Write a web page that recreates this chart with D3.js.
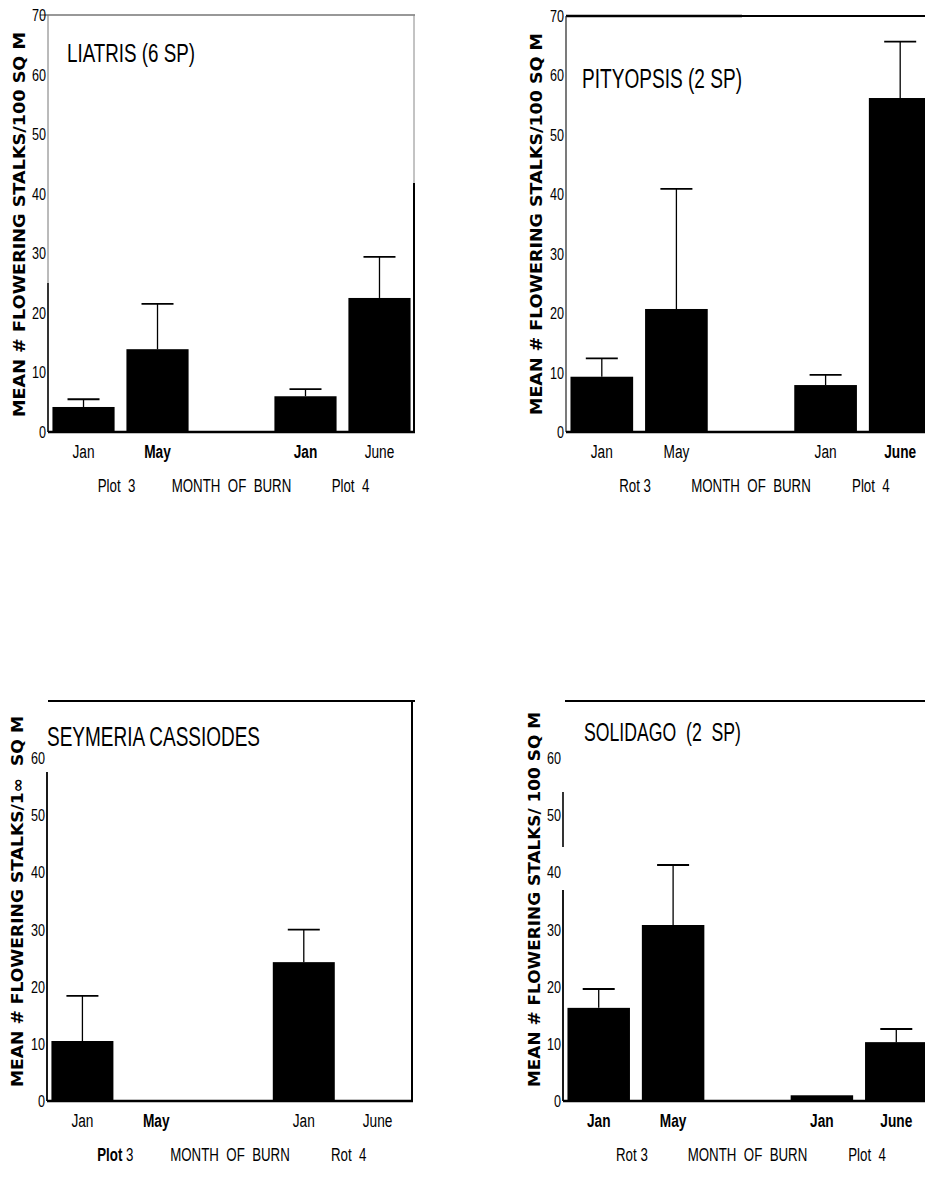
<!DOCTYPE html>
<html>
<head>
<meta charset="utf-8">
<script src="https://cdn.jsdelivr.net/npm/d3@7"></script>
<style>
  body { margin: 0; background: #fff; }
  .narrow { font-family: "Liberation Sans", Arial, sans-serif; }
  .ylab { font-family: "DejaVu Sans", sans-serif; font-weight: bold; }
</style>
</head>
<body>
<div id="chart"></div>
<script>
// categories: two plots, two burn months each, empty slot between them
var slots = ["Jan 3", "May 3", "gap", "Jan 4", "June 4"]
var monthLabels = ["Jan", "May", "", "Jan", "June"]
var yTicks = [0, 10, 20, 30, 40, 50, 60, 70]

// means and top of error bars
var liatrisMean = [4.2, 13.9, null, 6.0, 22.5]
var liatrisUpper = [5.5, 21.5, null, 7.2, 29.4]
var pityopsisMean = [9.3, 20.7, null, 7.9, 56.2]
var pityopsisUpper = [12.4, 40.9, null, 9.6, 65.7]
var seymeriaMean = [10.5, 0, null, 24.3, 0]
var seymeriaUpper = [18.4, null, null, 30.0, null]
var solidagoMean = [16.3, 30.8, null, 1.0, 10.3]
var solidagoUpper = [19.6, 41.3, null, null, 12.6]

var titles = ["LIATRIS (6 SP)", "PITYOPSIS (2 SP)", "SEYMERIA CASSIODES", "SOLIDAGO  (2  SP)"]
var yTitles = [
  "MEAN # FLOWERING STALKS/100 SQ M",
  "MEAN # FLOWERING STALKS/100 SQ M",
  "MEAN # FLOWERING STALKS/1\u221E  SQ M",
  "MEAN # FLOWERING STALKS/ 100 SQ M"
]
var plotLabels = [
  ["Plot  3", "MONTH  OF  BURN", "Plot  4"],
  ["Rot 3", "MONTH  OF  BURN", "Plot  4"],
  ["Plot 3", "MONTH  OF  BURN", "Rot  4"],
  ["Rot 3", "MONTH  OF  BURN", "Plot  4"]
]
var boldMonths = [
  [false, true, false, true, false],
  [false, false, false, false, true],
  [false, true, false, false, false],
  [true, true, false, true, true]
]

var width = 925, height = 1186

var svg = d3.select("#chart")
  .append("svg")
  .attr("width", width)
  .attr("height", height)

// squeeze text horizontally to mimic the condensed typeface
function condense(sel, f) {
  sel.each(function() {
    var w = this.getComputedTextLength()
    d3.select(this)
      .attr("textLength", w * f)
      .attr("lengthAdjust", "spacingAndGlyphs")
  })
}

// panel layout; frame pieces are [from, to, width, colour] in pixels
var panels = [
  { mean: liatrisMean, upper: liatrisUpper, left: 48, right: 415, top: 15, bottom: 432,
    yLabX: 25, yLabTop: 32, yLabBot: 417, titleX: 67, titleY: 62, titleSize: 25, titleW: 128, hide70: false,
    leftSegs: [[15, 283, 1, "#777"], [283, 432, 1.6, "#000"]],
    rightSegs: [[15, 183, 1, "#888"], [183, 432, 2, "#000"]],
    topSegs: [[40, 415, 1.2, "#333"]] },
  { mean: pityopsisMean, upper: pityopsisUpper, left: 566, right: 936, top: 16, bottom: 432,
    yLabX: 542, yLabTop: 33, yLabBot: 415, titleX: 582, titleY: 88, titleSize: 27, titleW: 160, hide70: false,
    leftSegs: [[16, 432, 1.2, "#222"]],
    rightSegs: [],
    topSegs: [[566, 742, 2.6, "#000"], [742, 925, 1.8, "#000"]] },
  { mean: seymeriaMean, upper: seymeriaUpper, left: 47, right: 413, top: 701, bottom: 1101,
    yLabX: 23, yLabTop: 716, yLabBot: 1087, titleX: 47, titleY: 746, titleSize: 27, titleW: 213, hide70: true,
    leftSegs: [[772, 1101, 1.8, "#000"]],
    rightSegs: [[701, 1101, 2, "#000"]],
    topSegs: [[48, 415, 2.2, "#000"]] },
  { mean: solidagoMean, upper: solidagoUpper, left: 563, right: 932, top: 701, bottom: 1101,
    yLabX: 540, yLabTop: 712, yLabBot: 1087, titleX: 584, titleY: 741, titleSize: 26, titleW: 157, hide70: true,
    leftSegs: [[792, 847, 1.6, "#000"], [890, 1101, 1.8, "#000"]],
    rightSegs: [],
    topSegs: [[565, 925, 2.2, "#000"]] }
]

panels.forEach(function(p, i) {
  var g = svg.append("g").attr("class", "panel-" + i)

  var xScale = d3.scaleBand()
    .domain(slots)
    .range([p.left, p.right])
    .paddingInner(0.16)
    .paddingOuter(0.06)

  var yScale = d3.scaleLinear()
    .domain([0, 70])
    .range([p.bottom, p.top])

  // frame pieces
  p.topSegs.forEach(function(s) {
    g.append("line")
      .attr("x1", s[0]).attr("x2", s[1])
      .attr("y1", p.top).attr("y2", p.top)
      .style("stroke", s[3])
      .style("stroke-width", s[2])
  })
  p.rightSegs.forEach(function(s) {
    g.append("line")
      .attr("x1", p.right - 1).attr("x2", p.right - 1)
      .attr("y1", s[0]).attr("y2", s[1])
      .style("stroke", s[3])
      .style("stroke-width", s[2])
  })
  p.leftSegs.forEach(function(s) {
    g.append("line")
      .attr("x1", p.left).attr("x2", p.left)
      .attr("y1", s[0]).attr("y2", s[1])
      .style("stroke", s[3])
      .style("stroke-width", s[2])
  })

  // Y axis
  var yAxis = d3.axisLeft(yScale)
    .tickValues(p.hide70 ? yTicks.slice(0, 7) : yTicks)
    .tickSize(0)
    .tickPadding(2)
    .tickFormat(d3.format("d"))

  var ya = g.append("g")
    .attr("transform", `translate(${p.left},0)`)
    .call(yAxis)
  ya.select(".domain").remove()
  ya.selectAll("text")
    .attr("class", "narrow")
    .style("font-size", "17px")
    .style("fill", "#000")
    .call(condense, 0.74)

  // bars
  var rows = slots.map(function(s, j) {
    return { slot: s, mean: p.mean[j], upper: p.upper[j] }
  }).filter(function(d) { return d.mean !== null })

  g.selectAll(".bar")
    .data(rows)
    .enter()
    .append("rect")
    .attr("class", "bar")
    .attr("x", d => xScale(d.slot))
    .attr("width", xScale.bandwidth())
    .attr("y", d => yScale(d.mean))
    .attr("height", d => p.bottom - yScale(d.mean))
    .style("fill", "#000")

  // error bars
  var errs = rows.filter(d => d.upper !== null)
  g.selectAll(".err")
    .data(errs)
    .enter()
    .append("line")
    .attr("class", "err")
    .attr("x1", d => xScale(d.slot) + xScale.bandwidth() / 2)
    .attr("x2", d => xScale(d.slot) + xScale.bandwidth() / 2)
    .attr("y1", d => yScale(d.mean))
    .attr("y2", d => yScale(d.upper))
    .style("stroke", "#000")
    .style("stroke-width", 1.3)
  g.selectAll(".cap")
    .data(errs)
    .enter()
    .append("line")
    .attr("class", "cap")
    .attr("x1", d => xScale(d.slot) + xScale.bandwidth() / 2 - 16)
    .attr("x2", d => xScale(d.slot) + xScale.bandwidth() / 2 + 16)
    .attr("y1", d => yScale(d.upper))
    .attr("y2", d => yScale(d.upper))
    .style("stroke", "#000")
    .style("stroke-width", 1.8)

  // baseline
  g.append("line")
    .attr("x1", p.left).attr("x2", Math.min(p.right, 925))
    .attr("y1", yScale(0)).attr("y2", yScale(0))
    .style("stroke", "#000")
    .style("stroke-width", 2.5)

  // X axis month labels
  var xAxis = d3.axisBottom(xScale)
    .tickSize(0)
    .tickPadding(13)
    .tickFormat((d, j) => monthLabels[j])
  var xa = g.append("g")
    .attr("transform", `translate(0,${p.bottom})`)
    .call(xAxis)
  xa.select(".domain").remove()
  xa.selectAll("text")
    .attr("class", "narrow")
    .style("font-size", "18px")
    .style("fill", "#000")
    .style("font-weight", (d, j) => boldMonths[i][j] ? "bold" : "normal")
    .call(condense, 0.76)

  // plot / month of burn labels, squeezed with a horizontal scale
  var under = [
    (xScale("Jan 3") + xScale("May 3") + xScale.bandwidth()) / 2 - 4,
    xScale("gap") + xScale.bandwidth() / 2,
    (xScale("Jan 4") + xScale("June 4") + xScale.bandwidth()) / 2 + 8
  ]
  var pl = g.selectAll(".plot-label")
    .data(plotLabels[i])
    .enter()
    .append("text")
    .attr("class", "plot-label narrow")
    .attr("transform", (d, j) => `translate(${under[j]},${p.bottom + 60}) scale(0.76,1)`)
    .attr("text-anchor", "middle")
    .style("white-space", "pre")
    .style("font-size", "17.5px")
  pl.each(function(d, j) {
    var t = d3.select(this)
    if (i == 2 && j == 0) {
      // "Plot" printed bold, number plain
      var parts = d.split(" ")
      t.append("tspan").style("font-weight", "bold").text(parts[0])
      t.append("tspan").text(" " + parts[1])
    } else {
      t.text(d)
    }
  })

  // panel title
  g.append("text")
    .attr("class", "narrow")
    .attr("x", p.titleX)
    .attr("y", p.titleY)
    .attr("textLength", p.titleW)
    .attr("lengthAdjust", "spacingAndGlyphs")
    .style("white-space", "pre")
    .style("font-size", p.titleSize + "px")
    .text(titles[i])

  // y title
  g.append("text")
    .attr("class", "ylab")
    .attr("transform", `translate(${p.yLabX},${(p.yLabTop + p.yLabBot) / 2}) rotate(-90)`)
    .attr("text-anchor", "middle")
    .attr("textLength", p.yLabBot - p.yLabTop)
    .attr("lengthAdjust", "spacingAndGlyphs")
    .style("white-space", "pre")
    .style("font-size", "15.5px")
    .text(yTitles[i])
})
</script>
</body>
</html>
